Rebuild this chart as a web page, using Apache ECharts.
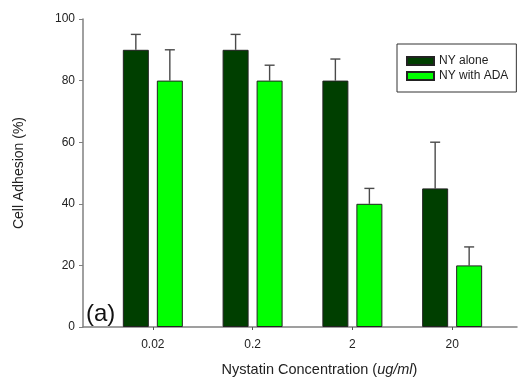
<!DOCTYPE html>
<html><head><meta charset="utf-8">
<script src="https://cdn.jsdelivr.net/npm/echarts@6/dist/echarts.min.js"></script>
<style>html,body{margin:0;padding:0;background:#fff}#c{width:518px;height:382px}</style>
</head><body><div id="c"></div>
<script>
const categories = ['0.02', '0.2', '2', '20'];
const nyAlone = [90, 90, 80, 45];
const nyAloneErr = [5, 5, 7, 15];
const nyAda = [80, 80, 40, 20];
const nyAdaErr = [10, 5, 5, 6];
const yTicks = [0, 20, 40, 60, 80, 100];

const BAR_W = 26, GAP = 8;
const OFF = (BAR_W + GAP) / 2;
const positions = categories.map((c, i) => i + 1);

function errSeries(name, vals, errs, offset) {
  return {
    type: 'custom', name: name + ' err', silent: true, z: 1,
    data: vals.map((v, i) => [positions[i], v, v + errs[i]]),
    renderItem: function (params, api) {
      const base = api.coord([api.value(0), api.value(1)]);
      const top = api.coord([api.value(0), api.value(2)]);
      const x = base[0] + offset;
      const st = { stroke: '#4a4a4a', lineWidth: 1.4 };
      return { type: 'group', children: [
        { type: 'line', shape: { x1: x, y1: base[1], x2: x, y2: top[1] }, style: st },
        { type: 'line', shape: { x1: x - 5, y1: top[1], x2: x + 5, y2: top[1] }, style: st }
      ]};
    }
  };
}

const chart = echarts.init(document.getElementById('c'));
chart.setOption({
  animation: false,
  textStyle: { fontFamily: 'Liberation Sans, Arial, sans-serif' },
  grid: { left: 83, right: 1, top: 19, bottom: 51 },
  legend: {
    orient: 'vertical', left: 397, top: 44,
    data: ['NY alone', 'NY with ADA'],
    itemWidth: 27, itemHeight: 8, itemGap: 3, itemTextGap: 7,
    padding: [11, 8, 10, 9],
    borderColor: '#333', borderWidth: 1,
    textStyle: { fontSize: 12, color: '#222' },
    icon: 'rect'
  },
  xAxis: {
    type: 'value', min: 0.3, max: 4.65,
    name: 'Nystatin Concentration ({i|ug/ml})', nameLocation: 'middle', nameGap: 35,
    nameTextStyle: { fontSize: 14.5, color: '#222', padding: [0, 0, 0, 39],
      rich: { i: { fontStyle: 'italic', fontSize: 14.5, color: '#222' } } },
    axisLine: { lineStyle: { color: '#808080', width: 1.5 } },
    axisTick: { show: true, length: 3, customValues: positions, lineStyle: { color: '#555' } },
    axisLabel: { customValues: positions, formatter: v => categories[Math.round(v) - 1], fontSize: 12, color: '#222', margin: 12 },
    splitLine: { show: false }
  },
  yAxis: {
    type: 'value', min: yTicks[0], max: yTicks[yTicks.length - 1], interval: 20,
    name: 'Cell Adhesion (%)', nameLocation: 'middle', nameGap: 57,
    nameTextStyle: { fontSize: 14, color: '#222' },
    axisLine: { show: true, lineStyle: { color: '#808080', width: 1.5 } },
    axisTick: { show: true, length: 4, lineStyle: { color: '#808080' } },
    axisLabel: { fontSize: 12, color: '#222', margin: 8 },
    splitLine: { show: false }
  },
  graphic: [{ type: 'text', left: 86, top: 302, style: { text: '(a)', fontSize: 24, fill: '#111', fontFamily: 'Liberation Sans, Arial, sans-serif' } }],
  series: [
    { type: 'bar', name: 'NY alone', barWidth: BAR_W, barGap: (GAP / BAR_W * 100) + '%', z: 2,
      itemStyle: { color: '#003f00', borderColor: '#222', borderWidth: 1 },
      data: nyAlone.map((v, i) => [positions[i], v]) },
    { type: 'bar', name: 'NY with ADA', barWidth: BAR_W, barGap: (GAP / BAR_W * 100) + '%', z: 2,
      itemStyle: { color: '#00ff00', borderColor: '#222', borderWidth: 1 },
      data: nyAda.map((v, i) => [positions[i], v]) },
    errSeries('NY alone', nyAlone, nyAloneErr, -OFF),
    errSeries('NY with ADA', nyAda, nyAdaErr, OFF)
  ]
});
</script></body></html>
